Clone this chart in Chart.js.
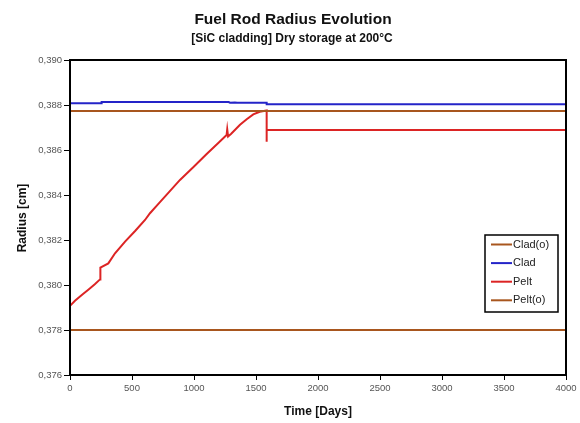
<!DOCTYPE html>
<html>
<head>
<meta charset="utf-8">
<script src="https://cdn.jsdelivr.net/npm/chart.js@4"></script>
<style>
  html, body { margin: 0; padding: 0; background: #fff; }
  #wrap { width: 580px; height: 423px; }
</style>
</head>
<body>
<div id="wrap"><canvas id="radiusChart" width="580" height="423"></canvas></div>
<script>
// Data: time in days, radius in cm
const titleText = "Fuel Rod Radius Evolution";
const subtitleText = "[SiC cladding] Dry storage at 200\u00B0C";
const seriesLabels = ["Clad(o)", "Clad", "Pelt", "Pelt(o)"];

const cladOuterDays = [0, 4000];
const cladOuterRadius = [0.38773, 0.38773];

const cladDays = [0, 250, 255, 1280, 1290, 1330, 1350, 1586, 1586, 4000];
const cladRadius = [0.38808, 0.38808, 0.38813, 0.38813, 0.38810, 0.38811, 0.38810, 0.38810, 0.38803, 0.38803];

const peltDays = [0, 0, 40, 100, 150, 200, 242, 245, 309, 363, 444, 525, 605, 645, 700, 800, 887, 1000, 1100, 1200, 1263, 1268, 1275, 1300, 1371, 1425, 1478, 1530, 1586, 1586, 1586, 4000];
const peltRadius = [0.3780, 0.37907, 0.3793, 0.37958, 0.3798, 0.38003, 0.38025, 0.38077, 0.38096, 0.38141, 0.38193, 0.3824, 0.38289, 0.38319, 0.38353, 0.38414, 0.38467, 0.38527, 0.38581, 0.38633, 0.38667, 0.38692, 0.38660, 0.38672, 0.38712, 0.38737, 0.38758, 0.38770, 0.38776, 0.38637, 0.38689, 0.38689];

const peltOuterDays = [0, 4000];
const peltOuterRadius = [0.3780, 0.3780];

const xTicks = [0, 500, 1000, 1500, 2000, 2500, 3000, 3500, 4000];
const yTicks = [0.376, 0.378, 0.380, 0.382, 0.384, 0.386, 0.388, 0.390];

const BROWN = "#a8561e";
const BLUE = "#2424c8";
const RED = "#dc2424";

function toPoints(xs, ys) {
    return xs.map((x, i) => ({ x: x, y: ys[i] }));
}

function line(label, xs, ys, color) {
    return {
        label: label,
        data: toPoints(xs, ys),
        borderColor: color,
        backgroundColor: color,
        borderWidth: 2,
        pointRadius: 0,
        tension: 0,
        fill: false
    };
}

// Frame, titles, axis titles and the boxed legend
const decorations = {
    id: 'decorations',
    afterDraw(chart) {
        const ctx = chart.ctx;
        const a = chart.chartArea;
        ctx.save();

        ctx.strokeStyle = "#000";
        ctx.lineWidth = 2;
        ctx.strokeRect(a.left, a.top, a.right - a.left, a.bottom - a.top);

        ctx.fillStyle = "#111";
        ctx.textAlign = "center";
        ctx.textBaseline = "alphabetic";
        ctx.font = "bold 15.5px 'Liberation Sans', Arial, sans-serif";
        ctx.fillText(titleText, 293, 24);
        ctx.font = "bold 12px 'Liberation Sans', Arial, sans-serif";
        ctx.fillText(subtitleText, 292, 42);

        ctx.font = "bold 12px 'Liberation Sans', Arial, sans-serif";
        ctx.fillText("Time [Days]", 318, 415);

        ctx.save();
        ctx.translate(26, 218);
        ctx.rotate(-Math.PI / 2);
        ctx.fillText("Radius [cm]", 0, 0);
        ctx.restore();

        // legend box
        const lx = 485, ly = 235, lw = 73, lh = 77;
        ctx.fillStyle = "#fff";
        ctx.fillRect(lx, ly, lw, lh);
        ctx.strokeStyle = "#000";
        ctx.lineWidth = 1.5;
        ctx.strokeRect(lx, ly, lw, lh);
        ctx.font = "11px 'Liberation Sans', Arial, sans-serif";
        ctx.textAlign = "left";
        ctx.textBaseline = "middle";
        chart.data.datasets.forEach((ds, i) => {
            const y = ly + 9.5 + i * 18.6;
            ctx.strokeStyle = ds.borderColor;
            ctx.lineWidth = 2;
            ctx.beginPath();
            ctx.moveTo(lx + 6, y);
            ctx.lineTo(lx + 27, y);
            ctx.stroke();
            ctx.fillStyle = "#222";
            ctx.fillText(ds.label, lx + 28, y);
        });
        ctx.restore();
    }
};

const ctx = document.getElementById('radiusChart').getContext('2d');
new Chart(ctx, {
    type: 'line',
    data: {
        datasets: [
            line(seriesLabels[0], cladOuterDays, cladOuterRadius, BROWN),
            line(seriesLabels[1], cladDays, cladRadius, BLUE),
            line(seriesLabels[2], peltDays, peltRadius, RED),
            line(seriesLabels[3], peltOuterDays, peltOuterRadius, BROWN)
        ]
    },
    options: {
        responsive: false,
        animation: false,
        layout: { padding: { top: 60, right: 14, bottom: 0, left: 0 } },
        plugins: {
            legend: { display: false },
            title: { display: false },
            tooltip: { enabled: false }
        },
        scales: {
            x: {
                type: 'linear',
                min: 0,
                max: 4000,
                afterBuildTicks: s => { s.ticks = xTicks.map(v => ({ value: v })); },
                afterFit: s => { s.height = 48; },
                grid: { drawOnChartArea: false, drawTicks: true, tickLength: 5, color: "#000" },
                border: { display: false },
                ticks: {
                    color: "#555",
                    padding: 3,
                    maxRotation: 0,
                    font: { size: 9.5, family: "'Liberation Sans', Arial, sans-serif" },
                    callback: v => String(v)
                }
            },
            y: {
                min: 0.376,
                max: 0.390,
                afterBuildTicks: s => { s.ticks = yTicks.map(v => ({ value: v })); },
                afterFit: s => { s.width = 70; },
                grid: { drawOnChartArea: false, drawTicks: true, tickLength: 6, color: "#000" },
                border: { display: false },
                ticks: {
                    color: "#555",
                    padding: 2,
                    font: { size: 9.5, family: "'Liberation Sans', Arial, sans-serif" },
                    callback: v => v.toFixed(3).replace('.', ',')
                }
            }
        }
    },
    plugins: [decorations]
});
</script>
</body>
</html>
